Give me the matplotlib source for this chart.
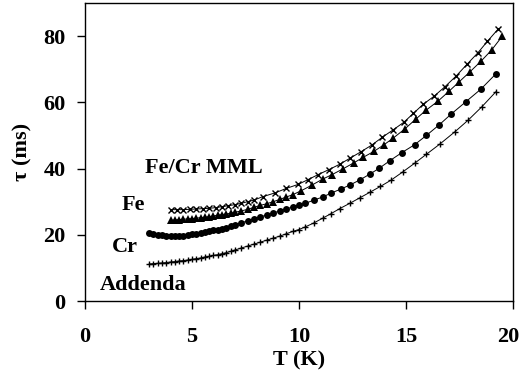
import matplotlib
matplotlib.use("Agg")
import matplotlib.pyplot as plt
from matplotlib.transforms import ScaledTranslation

plt.rcParams['font.family'] = ['Liberation Serif', 'DejaVu Serif']
plt.rcParams['font.weight'] = 'bold'

# Addenda (+)
T_add = [3.0, 3.2, 3.4, 3.6, 3.8, 4.0, 4.2, 4.4, 4.6, 4.8, 5.0, 5.2, 5.4, 5.6, 5.8,
         6.0, 6.2, 6.4, 6.6, 6.8, 7.0, 7.3, 7.6, 7.9, 8.2, 8.5, 8.8, 9.1, 9.4, 9.7,
         10.0, 10.3, 10.7, 11.1, 11.5, 11.9, 12.4, 12.85, 13.3, 13.8, 14.3, 14.85,
         15.4, 15.95, 16.6, 17.3, 17.9, 18.55, 19.2]
tau_add = [11.2, 11.3, 11.4, 11.5, 11.6, 11.8, 11.9, 12.1, 12.2, 12.4, 12.6, 12.8, 13.0, 13.3, 13.5,
           13.8, 14.0, 14.3, 14.6, 15.0, 15.4, 16.0, 16.6, 17.2, 17.8, 18.4, 19.0, 19.6, 20.3, 21.0,
           21.6, 22.4, 23.6, 25.0, 26.4, 27.9, 29.6, 31.2, 32.8, 34.6, 36.5, 39.0,
           41.6, 44.3, 47.5, 51.2, 54.6, 58.7, 63.2]

# Cr (circles)
T_cr = [3.0, 3.2, 3.4, 3.6, 3.8, 4.0, 4.2, 4.4, 4.6, 4.8, 5.0, 5.2, 5.4, 5.6, 5.8,
        6.0, 6.2, 6.4, 6.6, 6.8, 7.0, 7.3, 7.6, 7.9, 8.2, 8.5, 8.8, 9.1, 9.4, 9.7,
        10.0, 10.3, 10.7, 11.1, 11.5, 11.95, 12.4, 12.85, 13.3, 13.75, 14.25, 14.8,
        15.4, 15.95, 16.55, 17.1, 17.8, 18.5, 19.2]
tau_cr = [20.5, 20.2, 20.0, 19.8, 19.6, 19.5, 19.5, 19.6, 19.7, 19.9, 20.1, 20.3, 20.5, 20.8, 21.0,
          21.3, 21.6, 21.9, 22.2, 22.6, 23.0, 23.6, 24.2, 24.8, 25.4, 26.0, 26.6, 27.2, 27.8, 28.4,
          28.9, 29.5, 30.5, 31.4, 32.6, 33.8, 35.1, 36.6, 38.3, 40.1, 42.4, 44.8,
          47.2, 50.0, 53.2, 56.4, 60.2, 64.0, 68.6]

# Fe (triangles)
T_fe = [4.0, 4.2, 4.4, 4.6, 4.8, 5.0, 5.2, 5.4, 5.6, 5.8, 6.0, 6.2, 6.4, 6.6, 6.8,
        7.0, 7.3, 7.6, 7.9, 8.2, 8.5, 8.8, 9.1, 9.4, 9.7, 10.1, 10.6, 11.1, 11.55,
        12.05, 12.55, 13.0, 13.5, 13.95, 14.4, 14.95, 15.45, 15.95, 16.5, 17.0,
        17.5, 18.0, 18.5, 19.0, 19.5]
tau_fe = [24.4, 24.5, 24.6, 24.7, 24.8, 24.9, 25.0, 25.2, 25.3, 25.5, 25.7, 25.9, 26.1, 26.3, 26.5,
          26.8, 27.2, 27.7, 28.3, 28.9, 29.4, 30.0, 30.7, 31.4, 32.1, 33.3, 35.0, 36.8, 38.2,
          39.9, 41.7, 43.4, 45.2, 47.1, 49.2, 52.0, 54.9, 57.7, 60.4, 63.3,
          66.3, 69.3, 72.4, 75.8, 80.0]

# Fe/Cr MML (x)
T_ml = [4.0, 4.3, 4.6, 4.9, 5.2, 5.5, 5.8, 6.1, 6.4, 6.7, 7.0, 7.3, 7.6, 7.9, 8.3,
        8.9, 9.4, 9.95, 10.4, 10.9, 11.4, 11.9, 12.4, 12.9, 13.4, 13.9, 14.4, 14.9,
        15.35, 15.8, 16.3, 16.8, 17.35, 17.85, 18.35, 18.8, 19.3]
tau_ml = [27.6, 27.6, 27.6, 27.7, 27.8, 27.9, 28.0, 28.2, 28.5, 28.8, 29.1, 29.5, 30.0, 30.5, 31.5,
          32.7, 34.0, 35.2, 36.6, 38.2, 39.7, 41.3, 43.2, 45.1, 47.1, 49.5, 51.7, 54.0,
          56.7, 59.4, 61.8, 64.6, 68.0, 71.5, 74.9, 78.4, 82.1]

x_ticks = [0, 5, 10, 15, 20]
y_ticks = [0, 20, 40, 60, 80]

fig = plt.figure(figsize=(5.2, 3.82), dpi=100)
ax = fig.add_axes([0.1635, 0.212, 0.823, 0.780])

lw = 0.7
ax.plot(T_add, tau_add, color='black', lw=lw, marker='+', ms=5, mew=1.0)
ax.plot(T_cr, tau_cr, color='black', lw=lw, marker='o', ms=5, mew=0)
ax.plot(T_fe, tau_fe, color='black', lw=lw, marker='^', ms=5.5, mew=0)
ax.plot(T_ml, tau_ml, color='black', lw=lw, marker='x', ms=4.5, mew=1.0)

ax.set_xlim(0, 20)
ax.set_ylim(0, 90)
ax.set_xticks(x_ticks)
ax.set_yticks(y_ticks)
ax.tick_params(direction='out', length=6, width=1, labelsize=16)
ax.tick_params(axis='y', pad=8)
ax.tick_params(axis='x', pad=13)
for s in ax.spines.values():
    s.set_linewidth(1.0)

fig.canvas.draw()
last = ax.get_xticklabels()[-1]
last.set_transform(last.get_transform() + ScaledTranslation(-5 / 100, 0, fig.dpi_scale_trans))

ax.set_xlabel('T (K)', fontsize=16, fontweight='bold', labelpad=2)
ax.set_ylabel('τ (ms)', fontsize=16, fontweight='bold', labelpad=8)

ax.text(2.8, 40.2, 'Fe/Cr MML', fontsize=16, fontweight='bold', va='center', ha='left')
ax.text(1.73, 29.0, 'Fe', fontsize=16, fontweight='bold', va='center', ha='left')
ax.text(1.26, 16.3, 'Cr', fontsize=16, fontweight='bold', va='center', ha='left')
ax.text(0.7, 4.8, 'Addenda', fontsize=16, fontweight='bold', va='center', ha='left')

fig.savefig('out.png', dpi=100)
